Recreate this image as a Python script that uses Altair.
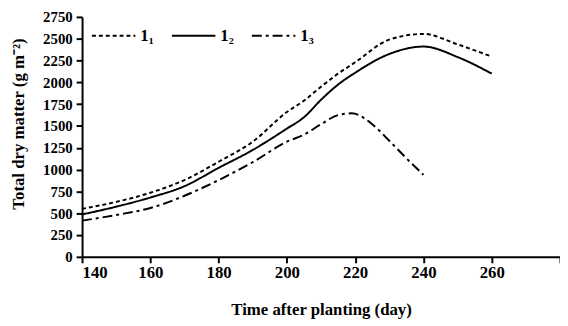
import altair as alt
import pandas as pd

series = ["1\u2081", "1\u2082", "1\u2083"]

days_l1 = [140, 150, 160, 170, 180, 190, 200, 205, 210, 215, 220, 230, 240, 250, 260]
dm_l1 = [550, 630, 735, 880, 1090, 1320, 1660, 1790, 1950, 2100, 2230, 2490, 2555, 2435, 2295]

days_l2 = [140, 150, 160, 170, 180, 190, 200, 205, 210, 215, 220, 230, 240, 250, 260]
dm_l2 = [486, 575, 680, 810, 1020, 1225, 1470, 1600, 1800, 1975, 2110, 2325, 2410, 2290, 2100]

days_l3 = [140, 150, 160, 170, 180, 190, 200, 205, 210, 215, 219, 225, 230, 235, 240]
dm_l3 = [415, 480, 560, 700, 880, 1085, 1320, 1400, 1520, 1625, 1645, 1520, 1330, 1130, 940]

x_ticks = [140, 160, 180, 200, 220, 240, 260, 280]
y_ticks = [0, 250, 500, 750, 1000, 1250, 1500, 1750, 2000, 2250, 2500, 2750]

rows = []
for name, dd, vv in zip(series, [days_l1, days_l2, days_l3], [dm_l1, dm_l2, dm_l3]):
    for d, v in zip(dd, vv):
        rows.append({"day": d, "dm": v, "series": name})
df = pd.DataFrame(rows)

FONT = "Liberation Serif"

chart = alt.Chart(df).mark_line(
    color="black", strokeWidth=2, interpolate="monotone"
).encode(
    x=alt.X(
        "day:Q",
        scale=alt.Scale(domain=[140, 280], nice=False, zero=False),
        axis=alt.Axis(
            values=x_ticks, format="d",
            labelExpr="datum.value == 280 ? '' : datum.label",
            title="Time after planting (day)",
            titleFont=FONT, titleFontSize=17, titleFontWeight="bold", titleColor="black",
            titleY=58, titleBaseline="alphabetic",
            labelFont=FONT, labelFontSize=17, labelFontWeight="bold", labelColor="black",
            labelPadding=2, tickSize=6, tickWidth=2, tickColor="black",
            domainColor="black", domainWidth=2, grid=False,
        ),
    ),
    y=alt.Y(
        "dm:Q",
        scale=alt.Scale(domain=[0, 2750], nice=False),
        axis=alt.Axis(
            values=y_ticks, format="d",
            title="Total dry matter (g m\u207b\u00b2)",
            titleFont=FONT, titleFontSize=17, titleFontWeight="bold", titleColor="black",
            titleAngle=-90, titleAlign="center", titleBaseline="alphabetic",
            titleX=-59, titleY=108,
            labelFont=FONT, labelFontSize=15, labelFontWeight="bold", labelColor="black",
            labelPadding=4, tickSize=6, tickWidth=2, tickColor="black",
            domainColor="black", domainWidth=2, grid=False,
        ),
    ),
    strokeDash=alt.StrokeDash(
        "series:N",
        scale=alt.Scale(domain=series, range=[[4, 3], [1, 0], [10, 4, 3, 4]]),
        legend=alt.Legend(
            title=None, orient="none", legendX=9, legendY=-4,
            direction="horizontal", columns=3,
            symbolType="stroke", symbolSize=1936, symbolStrokeWidth=2,
            symbolStrokeColor="black",
            labelFont=FONT, labelFontSize=17, labelFontWeight="bold", labelColor="black",
            labelOffset=4, columnPadding=14,
        ),
    ),
).properties(
    width=484, height=243,
    autosize=alt.AutoSizeParams(type="none"),
    padding={"left": 75, "top": 7, "right": 0, "bottom": 68},
).configure_view(stroke=None)

chart.save("out.html", embed_options={"renderer": "svg", "actions": False})
